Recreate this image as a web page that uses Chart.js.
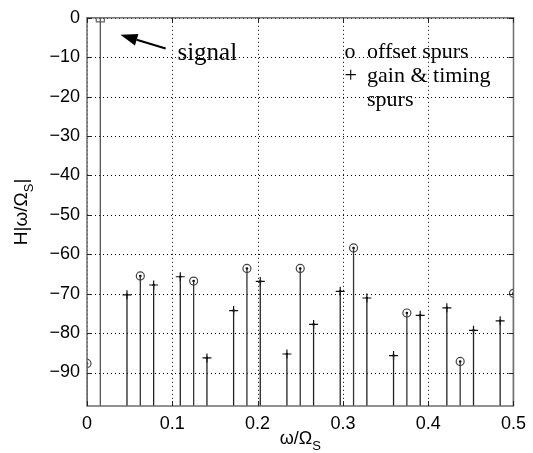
<!DOCTYPE html>
<html><head><meta charset="utf-8">
<script src="https://cdn.jsdelivr.net/npm/chart.js@4"></script>
<style>html,body{margin:0;padding:0;background:#fff}#wrap{width:533px;height:453px}</style>
</head><body><div id="wrap"><canvas id="c" width="533" height="453"></canvas></div>
<script>
// ---- data ----
const signalFreq = [0.015625];
const signalLevel = [0];
const offsetFreq = [0, 0.0625, 0.125, 0.1875, 0.25, 0.3125, 0.375, 0.4375, 0.5];
const offsetLevel = [-87.7, -65.5, -66.8, -63.6, -63.6, -58.4, -74.9, -87.2, -69.9];
const gainFreq = [0.046875, 0.078125, 0.109375, 0.140625, 0.171875, 0.203125, 0.234375, 0.265625,
                  0.296875, 0.328125, 0.359375, 0.390625, 0.421875, 0.453125, 0.484375];
const gainLevel = [-70.3, -67.8, -65.7, -86.3, -74.3, -66.9, -85.3, -77.8,
                   -69.4, -71.1, -85.7, -75.5, -73.6, -79.3, -76.9];
const xTicks = [0, 0.1, 0.2, 0.3, 0.4, 0.5];
const yTicks = [0, -10, -20, -30, -40, -50, -60, -70, -80, -90];
const X_MIN = 0, X_MAX = 0.5, Y_MIN = -98.5, Y_MAX = 0;

const pts = (xs, ys) => xs.map((x, i) => ({x, y: ys[i]}));
function stems(xs, ys) {
  const d = [];
  xs.forEach((x, i) => { d.push({x, y: Y_MIN}); d.push({x, y: ys[i]}); d.push({x, y: null}); });
  return d;
}

const SANS = '"Liberation Sans", Arial, sans-serif';
const SERIF = '"Liberation Serif", "Times New Roman", serif';

const decor = {
  id: 'decor',
  beforeDatasetsDraw(chart) {
    const {ctx, chartArea: a, scales: {x, y}} = chart;
    ctx.save();
    ctx.strokeStyle = '#000';
    ctx.lineWidth = 1;
    ctx.setLineDash([1, 3]);
    xTicks.forEach(v => {
      const p = Math.round(x.getPixelForValue(v)) + 0.5;
      ctx.beginPath(); ctx.moveTo(p, a.top); ctx.lineTo(p, a.bottom); ctx.stroke();
    });
    yTicks.forEach(v => {
      const p = Math.round(y.getPixelForValue(v)) + 0.5;
      ctx.beginPath(); ctx.moveTo(a.left, p); ctx.lineTo(a.right, p); ctx.stroke();
    });
    ctx.restore();
  },
  afterDatasetsDraw(chart) {
    const {ctx, chartArea: a, scales: {x, y}} = chart;
    ctx.save();
    ctx.strokeStyle = '#6e6e6e';
    ctx.lineWidth = 1.5;
    ctx.strokeRect(a.left, a.top, a.right - a.left, a.bottom - a.top);
    ctx.strokeStyle = '#222';
    ctx.lineWidth = 1;
    const L = 5;
    xTicks.forEach(v => {
      const p = Math.round(x.getPixelForValue(v)) + 0.5;
      ctx.beginPath(); ctx.moveTo(p, a.bottom); ctx.lineTo(p, a.bottom - L); ctx.stroke();
      ctx.beginPath(); ctx.moveTo(p, a.top); ctx.lineTo(p, a.top + L); ctx.stroke();
    });
    yTicks.forEach(v => {
      const p = Math.round(y.getPixelForValue(v)) + 0.5;
      ctx.beginPath(); ctx.moveTo(a.left, p); ctx.lineTo(a.left + L, p); ctx.stroke();
      ctx.beginPath(); ctx.moveTo(a.right, p); ctx.lineTo(a.right - L, p); ctx.stroke();
    });
    ctx.restore();
  },
  afterDraw(chart) {
    const {ctx, chartArea: a, scales: {x, y}} = chart;
    ctx.save();
    ctx.fillStyle = '#000';
    const main = 18, sub = 13;
    ctx.font = main + 'px ' + SANS;
    const t1 = 'ω/Ω';
    const w1 = ctx.measureText(t1).width;
    ctx.font = sub + 'px ' + SANS;
    const w2 = ctx.measureText('S').width;
    const cx = (a.left + a.right) / 2;
    let sx = cx - (w1 + w2) / 2;
    ctx.textBaseline = 'alphabetic';
    ctx.textAlign = 'left';
    ctx.font = main + 'px ' + SANS;
    ctx.fillText(t1, sx, 444);
    ctx.font = sub + 'px ' + SANS;
    ctx.fillText('S', sx + w1, 450);

    // y title  H|ω/Ω_S|
    const ym = 19;
    ctx.save();
    ctx.translate(27, (a.top + a.bottom) / 2);
    ctx.rotate(-Math.PI / 2);
    ctx.font = ym + 'px ' + SANS;
    const y1 = 'H|ω/Ω';
    const wy1 = ctx.measureText(y1).width;
    ctx.font = sub + 'px ' + SANS;
    const wy2 = ctx.measureText('S').width;
    ctx.font = ym + 'px ' + SANS;
    const wy3 = ctx.measureText('|').width;
    let s = -(wy1 + wy2 + wy3) / 2;
    ctx.fillText(y1, s, 0);
    ctx.font = sub + 'px ' + SANS;
    ctx.fillText('S', s + wy1, 6);
    ctx.font = ym + 'px ' + SANS;
    ctx.fillText('|', s + wy1 + wy2, 0);
    ctx.restore();

    // annotation: signal + arrow
    ctx.font = '25px ' + SERIF;
    ctx.fillText('signal', x.getPixelForValue(0.106), y.getPixelForValue(-10.6));
    const tx = x.getPixelForValue(0.0922), ty = y.getPixelForValue(-7.8);
    const hx = x.getPixelForValue(0.0392), hy = y.getPixelForValue(-4.3);
    const ang = Math.atan2(hy - ty, hx - tx);
    const hl = 17, hw = 6;
    const bx = hx - hl * Math.cos(ang), by = hy - hl * Math.sin(ang);
    ctx.strokeStyle = '#000'; ctx.lineWidth = 2;
    ctx.beginPath(); ctx.moveTo(tx, ty); ctx.lineTo(bx, by); ctx.stroke();
    ctx.beginPath();
    ctx.moveTo(hx, hy);
    ctx.lineTo(bx + hw * Math.sin(ang), by - hw * Math.cos(ang));
    ctx.lineTo(bx - hw * Math.sin(ang), by + hw * Math.cos(ang));
    ctx.closePath(); ctx.fill();

    // legend text
    ctx.font = '22px ' + SERIF;
    const mx = x.getPixelForValue(0.3018), lx = x.getPixelForValue(0.3283);
    ctx.fillText('o', mx, y.getPixelForValue(-10.1));
    ctx.fillText('offset spurs', lx, y.getPixelForValue(-10.1));
    ctx.fillText('+', mx, y.getPixelForValue(-16.4));
    ctx.fillText('gain & timing', lx, y.getPixelForValue(-16.4));
    ctx.fillText('spurs', lx, y.getPixelForValue(-22.4));
    ctx.restore();
  }
};

const allX = signalFreq.concat(offsetFreq, gainFreq);
const allY = signalLevel.concat(offsetLevel, gainLevel);

new Chart(document.getElementById('c'), {
  type: 'scatter',
  data: {
    datasets: [
      {label: 'signal stem', type: 'line', data: stems(signalFreq, signalLevel), showLine: true, spanGaps: false,
       borderColor: '#555', borderWidth: 1.3, pointRadius: 0},
      {label: 'offset stems', type: 'line', data: stems(offsetFreq, offsetLevel), showLine: true, spanGaps: false,
       borderColor: '#333', borderWidth: 1.3, pointRadius: 0},
      {label: 'gain stems', type: 'line', data: stems(gainFreq, gainLevel), showLine: true, spanGaps: false,
       borderColor: '#222', borderWidth: 1.3, pointRadius: 0},
      {label: 'signal', data: pts(signalFreq, signalLevel), pointStyle: 'rect', pointRadius: 5.7,
       borderColor: '#666', borderWidth: 1.2, backgroundColor: 'rgba(0,0,0,0)'},
      {label: 'offset spurs', data: pts(offsetFreq, offsetLevel), pointStyle: 'circle', pointRadius: 4,
       borderColor: '#444', borderWidth: 1.2, backgroundColor: 'rgba(0,0,0,0)'},
      {label: 'gain & timing spurs', data: pts(gainFreq, gainLevel), pointStyle: 'cross', pointRadius: 4.5,
       borderColor: '#111', borderWidth: 1.2},
      {label: 'centres', data: pts(allX, allY), pointStyle: 'circle', pointRadius: 1.3,
       borderWidth: 0, backgroundColor: '#000'}
    ]
  },
  options: {
    responsive: false,
    animation: false,
    devicePixelRatio: 1,
    layout: {padding: {top: 15, right: 12, left: 0, bottom: 0}},
    plugins: {legend: {display: false}, tooltip: {enabled: false}},
    scales: {
      x: {
        type: 'linear', min: X_MIN, max: X_MAX,
        grid: {display: false, drawTicks: false},
        border: {display: false},
        afterBuildTicks: s => { s.ticks = xTicks.map(v => ({value: v})); },
        afterFit: s => { s.height = 47; },
        ticks: {color: '#000', font: {family: SANS, size: 18}, padding: 7, maxRotation: 0,
                callback: v => String(v)}
      },
      y: {
        type: 'linear', min: Y_MIN, max: Y_MAX,
        grid: {display: false, drawTicks: false},
        border: {display: false},
        afterBuildTicks: s => { s.ticks = yTicks.map(v => ({value: v})); },
        afterFit: s => { s.width = 87; },
        ticks: {color: '#000', font: {family: SANS, size: 18}, padding: 7,
                callback: v => v < 0 ? '\u2212' + Math.abs(v) : String(v)}
      }
    }
  },
  plugins: [decor]
});
</script>
</body></html>
